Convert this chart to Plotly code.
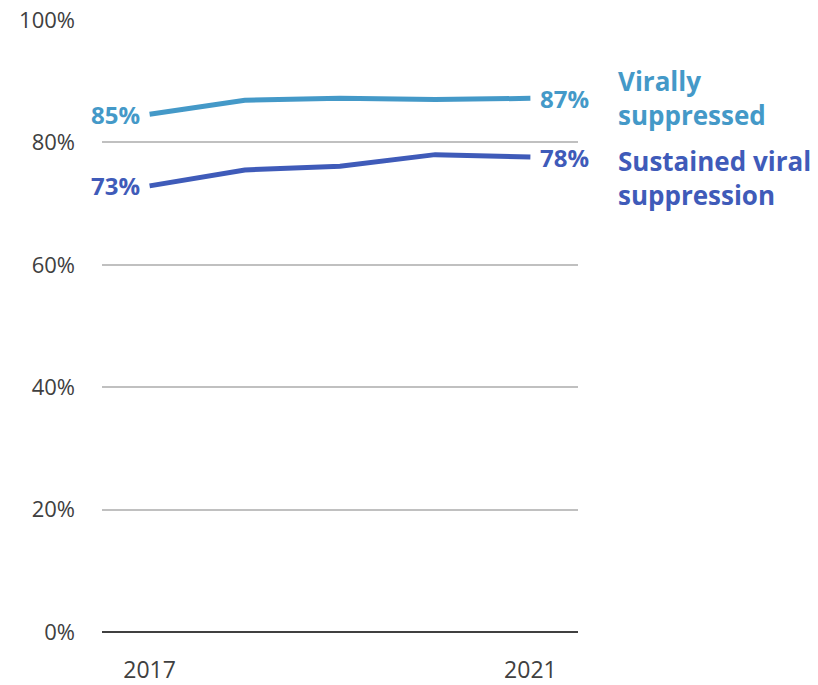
import plotly.graph_objects as go

years = [2017, 2018, 2019, 2020, 2021]
virally_suppressed = [84.6, 86.9, 87.2, 87.0, 87.2]
sustained_suppression = [72.9, 75.5, 76.1, 78.0, 77.6]

series_names = ["Virally<br>suppressed", "Sustained viral<br>suppression"]
colors = ["#4499C8", "#3F5BB9"]
tick_vals = [0, 20, 40, 60, 80, 100]
tick_text = ["0%", "20%", "40%", "60%", "80%", "100%"]
x_tick_vals = [2017, 2021]
x_tick_text = ["2017", "2021"]

FONT = "Open Sans"

fig = go.Figure()
for vals, color in zip([virally_suppressed, sustained_suppression], colors):
    fig.add_trace(go.Scatter(
        x=years, y=vals, mode="lines",
        line=dict(color=color, width=5),
        hoverinfo="skip", showlegend=False,
    ))

annotations = []
# vertical offset (px) of each series name relative to its last point
name_shifts = [0, -21]
for vals, color, name, ys in zip([virally_suppressed, sustained_suppression],
                                 colors, series_names, name_shifts):
    # start value, left of first point
    annotations.append(dict(
        x=years[0], y=vals[0], xref="x", yref="y",
        text=f"{round(vals[0])}%", showarrow=False,
        xanchor="right", yanchor="middle", xshift=-8,
        font=dict(family=FONT, size=24, color=color, weight="bold"),
    ))
    # end value, right of last point
    annotations.append(dict(
        x=years[-1], y=vals[-1], xref="x", yref="y",
        text=f"{round(vals[-1])}%", showarrow=False,
        xanchor="left", yanchor="middle", xshift=8,
        font=dict(family=FONT, size=24, color=color, weight="bold"),
    ))
    # series name
    annotations.append(dict(
        x=1, y=vals[-1], xref="paper", yref="y",
        text=name, showarrow=False, align="left",
        xanchor="left", yanchor="middle", xshift=38, yshift=ys,
        font=dict(family=FONT, size=26, color=color, weight="bold"),
    ))

fig.update_layout(
    width=818, height=685,
    margin=dict(l=102, r=240, t=20, b=53),
    paper_bgcolor="white", plot_bgcolor="white",
    annotations=annotations,
    xaxis=dict(
        range=[2016.5, 2021.5], tickvals=x_tick_vals, ticktext=x_tick_text,
        showgrid=False, zeroline=False, showline=False, ticks="",
        tickfont=dict(family=FONT, size=23, color="#404040"),
        ticklabelstandoff=22, automargin=False,
    ),
    yaxis=dict(
        range=[0, 100], tickvals=tick_vals, ticktext=tick_text,
        showgrid=True, gridcolor="#C0C0C0", gridwidth=1.5,
        zeroline=True, zerolinecolor="#404040", zerolinewidth=2,
        showline=False, ticks="",
        tickfont=dict(family=FONT, size=22, color="#404040"),
        ticklabelstandoff=26, automargin=False,
    ),
)

fig.write_html("out.html")
